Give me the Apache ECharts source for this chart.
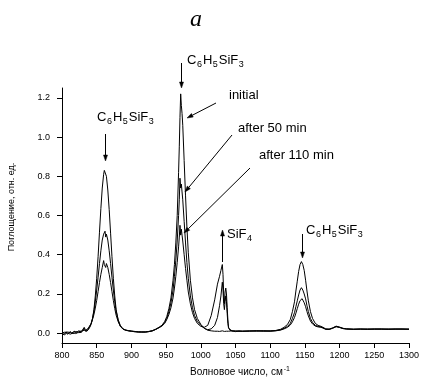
<!DOCTYPE html>
<html><head><meta charset="utf-8">
<script src="https://cdn.jsdelivr.net/npm/echarts@6/dist/echarts.min.js"></script>
<style>html,body{margin:0;padding:0;background:#fff}#c{width:426px;height:387px}</style>
</head><body><div id="c"></div>
<script>
// Wavenumber grid (cm-1)
const wavenumber = [
800,802,804,806,808,810,812,814,816,818,820,822,824,826,828,830,832,834,836,838,840,842,844,846,
848,850,852,854,856,858,860,861,862,863,864,866,868,870,872,874,876,878,881,884,888,892,896,900,
905,910,915,920,925,930,935,940,
944,948,951,954,957,960,962,964,966,968,969,970,971,972,973,974,976,978,980,982,985,988,991,995,1000,1005,1010,
1015,1020,1024,1027,1029,1031,1032,1033,1034,1035,1036,1037,1038,1039,1040,
1042,1045,1050,1055,1060,1070,1080,1090,1100,1108,1115,1120,1125,
1129,1132,1135,1137,1139,1141,1143,1144,1145,1146,1147,1149,1151,1153,1155,1158,1161,1165,1169,1173,1176,1180,
1185,1190,1195,1200,1205,1210,1220,1230,1240,1250,1260,1270,1280,1290,1300];

const initial = [
-0.005,0.004,-0.008,0.002,0.006,-0.004,0.003,0.008,-0.002,0.005,0.001,0.009,0.003,0.01,0.004,0.012,0.025,0.01,0.014,0.018,0.03,0.045,0.075,0.12,
0.19,0.28,0.39,0.515,0.635,0.74,0.81,0.83,0.835,0.82,0.80,0.73,0.63,0.51,0.39,0.28,0.19,0.12,0.065,0.035,0.02,0.015,0.012,0.01,
0.008,0.006,0.007,0.005,0.008,0.012,0.02,0.03,
0.04,0.06,0.085,0.125,0.18,0.27,0.35,0.46,0.60,0.82,0.95,1.10,1.22,1.16,1.12,1.06,0.88,0.70,0.54,0.41,0.27,0.18,0.12,0.075,0.045,0.025,0.015,
0.012,0.01,0.01,0.009,0.01,0.012,0.01,0.011,0.009,0.01,0.012,0.01,0.009,0.011,0.01,
0.01,0.012,0.008,0.011,0.009,0.012,0.01,0.013,0.011,0.014,0.02,0.03,0.045,
0.07,0.11,0.16,0.215,0.265,0.315,0.35,0.36,0.365,0.36,0.35,0.32,0.27,0.215,0.165,0.11,0.075,0.05,0.04,0.035,0.03,0.022,
0.02,0.027,0.036,0.03,0.024,0.022,0.02,0.022,0.019,0.021,0.02,0.022,0.02,0.021,0.02];

const after50 = [
0.002,-0.006,0.005,-0.003,0.001,0.007,-0.005,0.002,0.006,-0.001,0.008,0.002,0.007,0.004,0.011,0.006,0.015,0.012,0.01,0.02,0.034,0.05,0.076,0.112,
0.16,0.22,0.285,0.355,0.42,0.475,0.505,0.50,0.52,0.49,0.505,0.475,0.42,0.355,0.285,0.22,0.16,0.112,0.068,0.04,0.022,0.016,0.013,0.011,
0.009,0.005,0.006,0.007,0.009,0.013,0.02,0.03,
0.04,0.055,0.075,0.11,0.155,0.22,0.29,0.37,0.47,0.60,0.68,0.79,0.74,0.76,0.72,0.68,0.57,0.46,0.36,0.28,0.19,0.13,0.09,0.06,0.04,0.025,0.018,
0.022,0.04,0.08,0.14,0.19,0.26,0.22,0.15,0.12,0.16,0.19,0.16,0.10,0.05,0.025,
0.015,0.012,0.01,0.012,0.01,0.011,0.012,0.01,0.012,0.013,0.017,0.025,0.035,
0.05,0.075,0.105,0.135,0.165,0.195,0.22,0.228,0.232,0.226,0.22,0.20,0.175,0.14,0.11,0.075,0.055,0.04,0.035,0.032,0.028,0.02,
0.021,0.026,0.034,0.031,0.025,0.021,0.021,0.02,0.022,0.02,0.022,0.02,0.022,0.02,0.021];

const after110 = [
0.006,0.0,-0.004,0.008,-0.006,0.002,0.009,-0.003,0.004,0.01,-0.002,0.006,0.012,0.002,0.008,0.015,0.03,0.014,0.02,0.026,0.036,0.05,0.07,0.095,
0.128,0.167,0.212,0.258,0.30,0.335,0.37,0.35,0.36,0.335,0.355,0.335,0.30,0.258,0.212,0.167,0.126,0.092,0.058,0.036,0.021,0.015,0.012,0.01,
0.007,0.008,0.005,0.006,0.008,0.011,0.019,0.028,
0.036,0.05,0.07,0.095,0.13,0.18,0.23,0.29,0.36,0.44,0.49,0.55,0.50,0.53,0.50,0.47,0.40,0.33,0.27,0.21,0.15,0.105,0.075,0.05,0.035,0.03,0.04,
0.09,0.17,0.25,0.29,0.32,0.35,0.30,0.20,0.15,0.21,0.23,0.20,0.13,0.07,0.03,
0.015,0.011,0.012,0.009,0.011,0.01,0.013,0.011,0.01,0.012,0.016,0.022,0.03,
0.042,0.058,0.08,0.102,0.125,0.148,0.166,0.175,0.17,0.176,0.17,0.155,0.135,0.11,0.088,0.062,0.047,0.036,0.032,0.03,0.026,0.02,
0.019,0.025,0.033,0.029,0.023,0.022,0.019,0.021,0.02,0.022,0.021,0.019,0.021,0.022,0.02];

const yTicks = [0, 0.2, 0.4, 0.6, 0.8, 1.0, 1.2];
const xLabelTitle = 'Волновое число, см';
const yLabelTitle = 'Поглощение, отн. ед.';

const FONT = '"Liberation Sans", Arial, sans-serif';
const mctx = document.createElement('canvas').getContext('2d');
function tw(t, size){ mctx.font = size + 'px ' + FONT; return mctx.measureText(t).width; }

function formula(x, y, parts){
  const els = []; let cx = x;
  parts.forEach(([t, sub]) => {
    const size = sub ? 9 : 13;
    els.push({type:'text', x:cx, y: sub ? y + 5 : y,
      style:{text:t, font: size + 'px ' + FONT, fill:'#000', align:'left', verticalAlign:'middle'}});
    cx += tw(t, size) + (sub ? 1 : 0.5);
  });
  return els;
}
function arrow(x1, y1, x2, y2){
  const dx = x2 - x1, dy = y2 - y1, L = Math.hypot(dx, dy), ux = dx / L, uy = dy / L;
  const hl = 6, hw = 2;
  const bx = x2 - ux * hl, by = y2 - uy * hl;
  return [
    {type:'line', shape:{x1:x1, y1:y1, x2:bx, y2:by}, style:{stroke:'#000', lineWidth:1}},
    {type:'polygon', shape:{points:[[x2, y2], [bx - uy * hw, by + ux * hw], [bx + uy * hw, by - ux * hw]]}, style:{fill:'#000', stroke:'#000', lineWidth:0.5}}
  ];
}
function txt(x, y, t, size){
  return {type:'text', x:x, y:y, style:{text:t, font:size + 'px ' + FONT, fill:'#000', align:'left', verticalAlign:'middle'}};
}
const C6 = [['C',0],['6',1],['H',0],['5',1],['SiF',0],['3',1]];

const chart = echarts.init(document.getElementById('c'), null, {renderer:'canvas'});
function pairs(ys){ return wavenumber.map((x, i) => [x, ys[i]]); }
const ls = {color:'#000', width:1};

const graphics = [].concat(
  [{type:'text', x:196, y:20, style:{text:'a', font:'italic 24px "Liberation Serif", "Times New Roman", serif', fill:'#000', align:'center', verticalAlign:'middle'}}],
  formula(187, 60, C6), arrow(181.5, 63, 181.5, 88),
  formula(97, 117, C6), arrow(105.5, 134, 105.5, 161),
  [txt(229, 95, 'initial', 13)], arrow(216, 103, 187, 118),
  [txt(238, 128, 'after 50 min', 13)], arrow(232, 135, 185, 192),
  [txt(259, 155, 'after 110 min', 13)], arrow(250, 168, 184, 233),
  formula(227, 234, [['SiF',0],['4',1]]), arrow(222.5, 262, 222.5, 230),
  formula(306, 230, C6), arrow(302.5, 234, 302.5, 258),
  [{type:'text', x:12, y:207, rotation:Math.PI/2,
     style:{text:yLabelTitle, font:'9px ' + FONT, fill:'#000', align:'center', verticalAlign:'middle'}}],
  [{type:'text', x:240, y:372,
     style:{text:'{m|' + xLabelTitle + '}{s|-1}', fill:'#000', align:'center', verticalAlign:'middle',
       rich:{m:{font:'10px ' + FONT, fill:'#000'}, s:{font:'7px ' + FONT, fill:'#000', padding:[0,0,6,1]}}}}]
);

chart.setOption({
  animation:false,
  backgroundColor:'#fff',
  grid:{left:62, right:17, top:88, bottom:44, containLabel:false},
  xAxis:{type:'value', min:800, max:1300, interval:50,
    axisLine:{show:true, onZero:false, lineStyle:{color:'#000', width:1}},
    axisTick:{show:true, inside:false, length:5, lineStyle:{color:'#000'}},
    axisLabel:{show:true, color:'#000', fontSize:9, fontFamily:FONT, margin:8, showMinLabel:true, showMaxLabel:true,
      formatter:(v) => String(v)},
    splitLine:{show:false}},
  yAxis:{type:'value', min:-0.05, max:1.25,
    axisLine:{show:true, onZero:false, lineStyle:{color:'#000', width:1}},
    axisTick:{show:true, inside:false, length:5, customValues:yTicks, lineStyle:{color:'#000'}},
    axisLabel:{show:true, color:'#000', fontSize:9, fontFamily:FONT, margin:12, customValues:yTicks,
      formatter:(v) => v.toFixed(1)},
    splitLine:{show:false}},
  series:[
    {name:'initial', type:'line', data:pairs(initial), showSymbol:false, lineStyle:ls, silent:true},
    {name:'after 50 min', type:'line', data:pairs(after50), showSymbol:false, lineStyle:ls, silent:true},
    {name:'after 110 min', type:'line', data:pairs(after110), showSymbol:false, lineStyle:ls, silent:true}
  ],
  graphic:graphics
});
</script>
</body></html>
